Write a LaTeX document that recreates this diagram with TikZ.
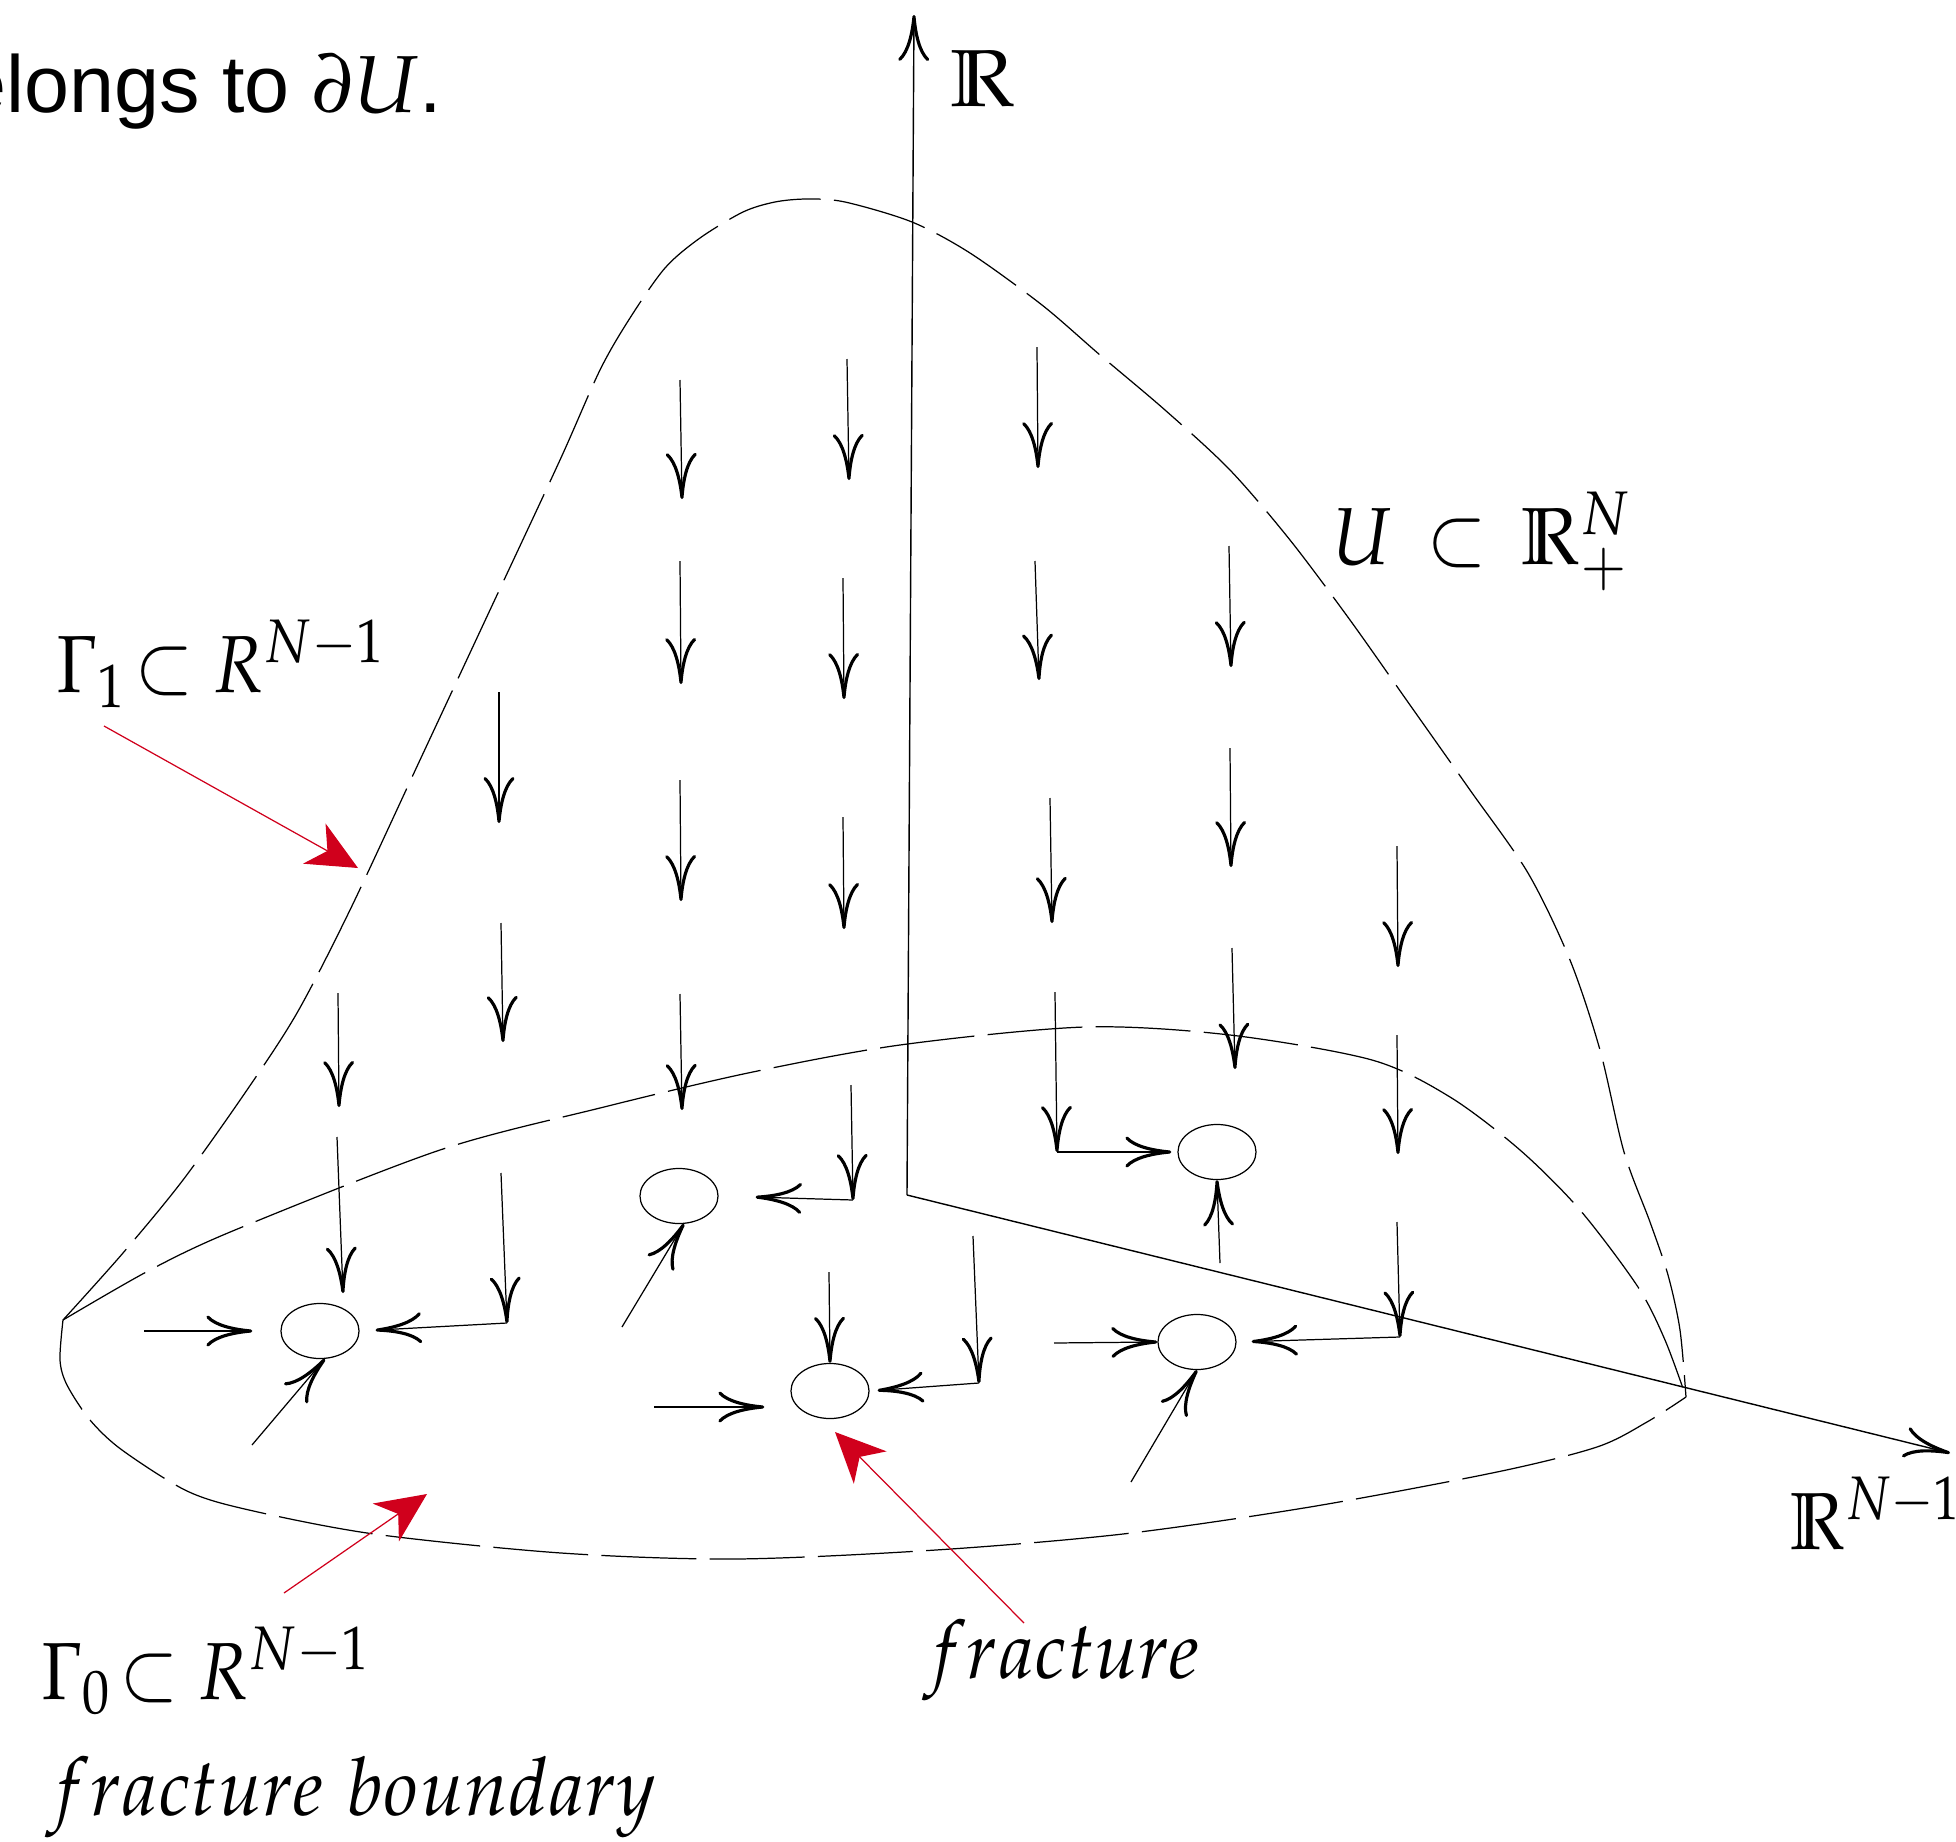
\documentclass[tikz,border=0pt]{standalone}
\usepackage{amssymb}
\usepackage[no-math]{fontspec}
\usepackage{mathpazo}
\newfontfamily\sanslab{Liberation Sans}
\usepackage{tikz}
\usetikzlibrary{arrows.meta,shapes.geometric}
\definecolor{pinred}{RGB}{208,0,28}

\begin{document}
\begin{tikzpicture}[x=0.01cm, y=-0.01cm,
  fl/.style={line width=0.35pt, -{Computer Modern Rightarrow[length=4.6mm, width=3.1mm, line width=0.9pt 0]}},
  rim/.style={line width=0.35pt, dash pattern=on 27pt off 3.8pt},
  hole/.style={ellipse, draw, line width=0.35pt, minimum width=0.78cm, minimum height=0.55cm, inner sep=0pt},
  lab/.style={font=\fontsize{23}{28}\selectfont, inner sep=0pt},
  pin/.style={draw=pinred, line width=0.35pt, -{Stealth[length=5mm, width=4.6mm, inset=1.5mm]}}
]
\useasboundingbox (0,0) rectangle (1956,1842);

\coordinate (o) at (907,1195);
\coordinate (ytop) at (914,15);
\coordinate (xend) at (1950,1453);
\draw[fl, line width=0.4pt] (o) -- (ytop);
\draw[fl, line width=0.4pt] (o) -- (xend);

\draw[rim] plot[smooth] coordinates {(63,1320) (123,1253) (183,1180) (247,1090) (297,1013) (350,910) (420,760) (490,610) (560,460) (600,370) (630,318) (665,268) (700,238) (743,212) (775,202) (807,199) (845,202) (912,222) (970,253) (1042,305) (1100,355) (1165,410) (1230,470) (1290,540) (1350,620) (1410,705) (1470,790) (1528,873) (1570,960) (1600,1050) (1624,1152) (1650,1222) (1668,1275) (1680,1330) (1686,1397)};
\draw[rim] plot[smooth] coordinates {(63,1320) (150,1270) (235,1230) (440,1150) (600,1108) (748,1073) (900,1045) (1085,1027) (1230,1035) (1372,1060) (1450,1097) (1520,1150) (1580,1210) (1638,1287) (1665,1340) (1686,1397)};
\draw[rim] plot[smooth] coordinates {(63,1320) (60,1360) (67,1385) (90,1420) (122,1450) (187,1491) (249,1510) (374,1534) (561,1553) (736,1559) (936,1550) (1123,1534) (1310,1507) (1497,1472) (1597,1447) (1647,1422) (1686,1397)};

\foreach \xa/\ya/\xb/\yb in {
  338/993/339/1107, 337/1137/343/1293,
  499/692/499/823, 501/923/503/1042, 501/1173/507/1323,
  680/380/682/499, 680/561/681/684, 680/780/681/901, 680/994/682/1110,
  847/359/849/480, 843/578/844/699, 843/817/844/929, 851/1085/853/1200,
  1037/347/1038/468, 1035/561/1039/680, 1050/798/1052/923, 1055/992/1057/1152,
  1229/546/1231/667, 1230/748/1231/867, 1232/948/1235/1069,
  1397/846/1398/967, 1397/1035/1398/1154, 1397/1222/1400/1337,
  973/1236/979/1383} {
  \draw[fl] (\xa,\ya) -- (\xb,\yb);
}

\node[hole] (h1) at (320,1331) {};
\node[hole] (h2) at (679,1196) {};
\node[hole] (h3) at (1217,1152) {};
\node[hole] (h4) at (1197,1342) {};
\node[hole] (h5) at (830,1391) {};

\coordinate (k1) at (507,1323);
\coordinate (k2) at (853,1200);
\coordinate (k3) at (1057,1152);
\coordinate (k4) at (1400,1337);
\coordinate (k5) at (979,1383);
\coordinate (e1) at (144,1331);
\coordinate (e2) at (252,1445);
\coordinate (e3) at (622,1327);
\coordinate (e4) at (1220,1263);
\coordinate (e5) at (1054,1343);
\coordinate (e6) at (1131,1482);
\coordinate (e7) at (829,1272);
\coordinate (e8) at (654,1407);

\draw[fl, shorten >=0.28cm] (e1) -- (h1.west);
\draw[fl, shorten >=0.16cm] (k1) -- (h1.east);
\draw[fl] (e2) -- (h1.-80);
\draw[fl, shorten >=0.37cm] (k2) -- (h2.east);
\draw[fl] (e3) -- (h2.-80);
\draw[fl, shorten >=0.06cm] (k3) -- (h3.west);
\draw[fl] (e4) -- (h3.south);
\draw[fl, shorten >=0.15cm] (k4) -- (h4.east);
\draw[fl] (e5) -- (h4.west);
\draw[fl] (e6) -- (h4.south);
\draw[fl] (e7) -- (h5.north);
\draw[fl, shorten >=0.08cm] (k5) -- (h5.east);
\draw[fl, shorten >=0.26cm] (e8) -- (e8 -| h5.west);

\node[lab, anchor=base east] (bel) at (443,112) {\sanslab belongs to $\partial U$.};
\node[lab, anchor=base west] (rr) at (950,106) {$\mathbb{R}$};
\node[lab, anchor=base west, xscale=0.84] (rn) at (1790,1549) {$\mathbb{R}^{N-1}$};
\node[lab, anchor=base west, xscale=0.9] (dom) at (1332,564) {$U\:\subset\:\mathbb{R}^N_+$};
\node[lab, anchor=base west, xscale=0.88] (gone) at (56,692) {$\Gamma_1\mskip-3mu\subset R^{N-1}$};
\node[lab, anchor=base west, xscale=0.88] (gzero) at (41,1699) {$\Gamma_0\mskip-3mu\subset R^{N-1}$};
\node[lab, anchor=base west, xscale=0.94] (fb) at (46,1815) {$fracture\ boundary$};
\node[lab, anchor=base west, xscale=0.935] (frac) at (923,1678) {$fracture$};

\coordinate (p1) at (104,726);
\coordinate (t1) at (358,868);
\coordinate (p2) at (284,1593);
\coordinate (t2) at (427,1494);
\coordinate (p3) at (1024,1623);
\coordinate (t3) at (835,1432);
\draw[pin] (p1) -- (t1);
\draw[pin] (p2) -- (t2);
\draw[pin] (p3) -- (t3);
\end{tikzpicture}
\end{document}
